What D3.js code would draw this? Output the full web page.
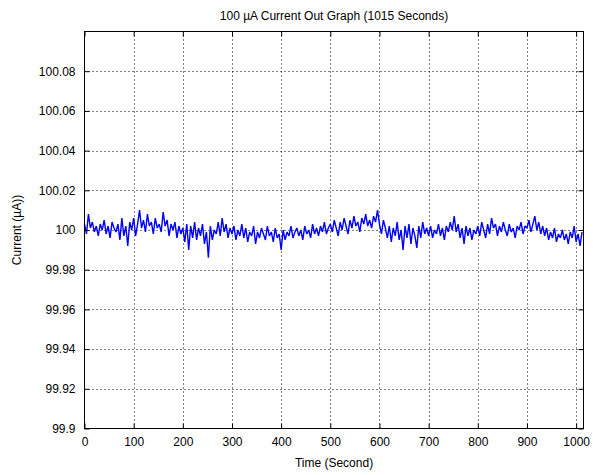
<!DOCTYPE html>
<html>
<head>
<meta charset="utf-8">
<script src="https://cdn.jsdelivr.net/npm/d3@7"></script>
<style>
  body { margin: 0; background: #fff; }
  svg text { font-family: "Liberation Sans", Arial, sans-serif; font-size: 12px; fill: #000; }
  .grid line { stroke: #000; stroke-dasharray: 1,3; stroke-width: 1; }
</style>
</head>
<body>
<div id="chart"></div>
<script>
'use strict';

const sampleStep = 4;
const current = [
    100.003, 99.998, 100.008, 100.001, 100.004, 99.999, 100.002, 99.997, 100.003, 100.000,
    100.005, 99.998, 100.002, 99.996, 100.004, 100.001, 99.999, 100.003, 99.995, 100.006,
    99.997, 100.002, 99.992, 100.004, 100.000,
    100.006, 99.997, 100.003, 100.010, 100.001, 100.005, 99.999, 100.008, 100.002, 100.004,
    99.998, 100.006, 100.001, 100.003, 99.999, 100.009, 100.002, 100.005, 99.997, 100.003,
    100.000, 100.004, 99.996, 100.002, 99.998,
    100.001, 99.994, 100.003, 99.990, 100.002, 99.996, 100.004, 99.995, 100.001, 99.997,
    100.003, 99.993, 99.999, 99.986, 100.002, 99.995, 100.000, 99.998, 100.004, 99.997,
    100.006, 99.999, 100.003, 99.996, 100.001,
    99.998, 100.002, 99.995, 100.000, 99.997, 100.003, 99.996, 100.001, 99.994, 99.999,
    99.997, 100.002, 99.993, 99.999, 99.996, 100.001, 99.998, 99.995, 100.002, 99.997,
    99.999, 99.994, 100.001, 99.996, 99.998,
    99.990, 100.000, 99.995, 99.999, 99.997, 100.002, 99.996, 99.999, 100.001, 99.997,
    100.000, 99.995, 100.002, 99.998, 100.000, 99.996, 100.003, 99.998, 100.001, 99.997,
    100.002, 99.999, 100.004, 99.998, 100.001,
    100.003, 99.999, 100.005, 100.001, 99.997, 100.004, 100.000, 100.006, 100.002, 99.998,
    100.005, 100.001, 100.007, 100.002, 100.004, 99.999, 100.006, 100.003, 100.008, 100.002,
    100.005, 100.001, 100.007, 100.004, 100.010,
    100.003, 99.998, 100.005, 100.001, 99.996, 100.002, 99.994, 100.001, 99.997, 100.004,
    99.995, 100.000, 99.990, 100.002, 99.996, 100.003, 99.993, 100.001, 99.997, 99.991,
    100.002, 99.996, 100.004, 99.998, 100.001,
    99.997, 100.002, 99.996, 100.000, 99.998, 100.003, 99.997, 100.001, 99.995, 100.002,
    99.999, 100.004, 100.000, 100.007, 99.999, 100.003, 99.996, 100.001, 99.993, 100.002,
    99.997, 100.001, 99.995, 100.000, 99.998,
    100.002, 99.997, 100.004, 100.000, 99.996, 100.003, 99.998, 100.006, 100.001, 100.003,
    99.997, 100.002, 99.999, 100.004, 100.000, 99.997, 100.003, 99.999, 100.001, 99.996,
    100.002, 100.000, 100.004, 99.998, 100.002,
    100.001, 100.005, 99.999, 100.003, 100.007, 100.000, 100.004, 99.998, 100.002, 99.997,
    100.001, 99.995, 99.999, 99.996, 100.001, 99.994, 99.998, 99.996, 100.000, 99.995,
    99.998, 99.993, 99.999, 99.996, 100.002, 99.994, 99.998, 99.992, 99.999
];

const xTicks = [0, 100, 200, 300, 400, 500, 600, 700, 800, 900, 1000];
const yTicks = [99.9, 99.92, 99.94, 99.96, 99.98, 100, 100.02, 100.04, 100.06, 100.08];
const xDomain = [0, 1015];
const yDomain = [99.9, 100.1];

const svgWidth = 593, svgHeight = 475;
const plotLeft = 84.5, plotRight = 583.5, plotTop = 31.5, plotBottom = 428.5;

const svg = d3.select("#chart")
    .append("svg")
    .attr("width", svgWidth)
    .attr("height", svgHeight);

const x = d3.scaleLinear().domain(xDomain).range([plotLeft, plotRight]);
const y = d3.scaleLinear().domain(yDomain).range([plotBottom, plotTop]);

// dotted grid
const grid = svg.append("g").classed("grid", true);
grid.selectAll(".gx")
    .data(xTicks.filter(d => d > 0))
    .enter().append("line")
    .attr("x1", d => Math.round(x(d)) + 0.5).attr("x2", d => Math.round(x(d)) + 0.5)
    .attr("y1", plotTop).attr("y2", plotBottom);
grid.selectAll(".gy")
    .data(yTicks.filter(d => d > yDomain[0]))
    .enter().append("line")
    .attr("y1", d => Math.round(y(d)) + 0.5).attr("y2", d => Math.round(y(d)) + 0.5)
    .attr("x1", plotLeft).attr("x2", plotRight);

// the trace
const line = d3.line()
    .x((d, i) => x(i * sampleStep))
    .y(d => y(d));
svg.append("path")
    .datum(current)
    .attr("d", line)
    .attr("fill", "none")
    .attr("stroke", "#0000ff")
    .attr("stroke-width", 1.4)
    .attr("stroke-linejoin", "bevel");

// axes, matlab style ticks pointing inward
const fmtY = d => String(+d.toFixed(2));
svg.append("g")
    .attr("transform", "translate(0," + plotBottom + ")")
    .call(d3.axisBottom(x).tickValues(xTicks).tickFormat(d3.format("d"))
        .tickSizeInner(-5).tickSizeOuter(0).tickPadding(9))
    .call(g => g.select(".domain").remove());
svg.append("g")
    .attr("transform", "translate(0," + plotTop + ")")
    .call(d3.axisTop(x).tickValues(xTicks).tickSizeInner(-5).tickSizeOuter(0).tickFormat(""))
    .call(g => g.select(".domain").remove());
svg.append("g")
    .attr("transform", "translate(" + plotLeft + ",0)")
    .call(d3.axisLeft(y).tickValues(yTicks).tickFormat(fmtY)
        .tickSizeInner(-5).tickSizeOuter(0).tickPadding(9))
    .call(g => g.select(".domain").remove());
svg.append("g")
    .attr("transform", "translate(" + plotRight + ",0)")
    .call(d3.axisRight(y).tickValues(yTicks).tickSizeInner(-5).tickSizeOuter(0).tickFormat(""))
    .call(g => g.select(".domain").remove());

svg.selectAll(".tick text").style("font-size", "12px").attr("fill", "#000");
svg.selectAll(".tick line").attr("stroke", "#000");

// box
svg.append("rect")
    .attr("x", plotLeft).attr("y", plotTop)
    .attr("width", plotRight - plotLeft).attr("height", plotBottom - plotTop)
    .attr("fill", "none").attr("stroke", "#000").attr("stroke-width", 1);

// labels
svg.append("text")
    .attr("x", (plotLeft + plotRight) / 2).attr("y", 20)
    .attr("text-anchor", "middle")
    .text("100 µA Current Out Graph (1015 Seconds)");
svg.append("text")
    .attr("x", (plotLeft + plotRight) / 2).attr("y", 467)
    .attr("text-anchor", "middle")
    .text("Time (Second)");
svg.append("text")
    .attr("transform", "translate(21," + ((plotTop + plotBottom) / 2) + ") rotate(-90)")
    .attr("text-anchor", "middle")
    .text("Current (µA))");
</script>
</body>
</html>
